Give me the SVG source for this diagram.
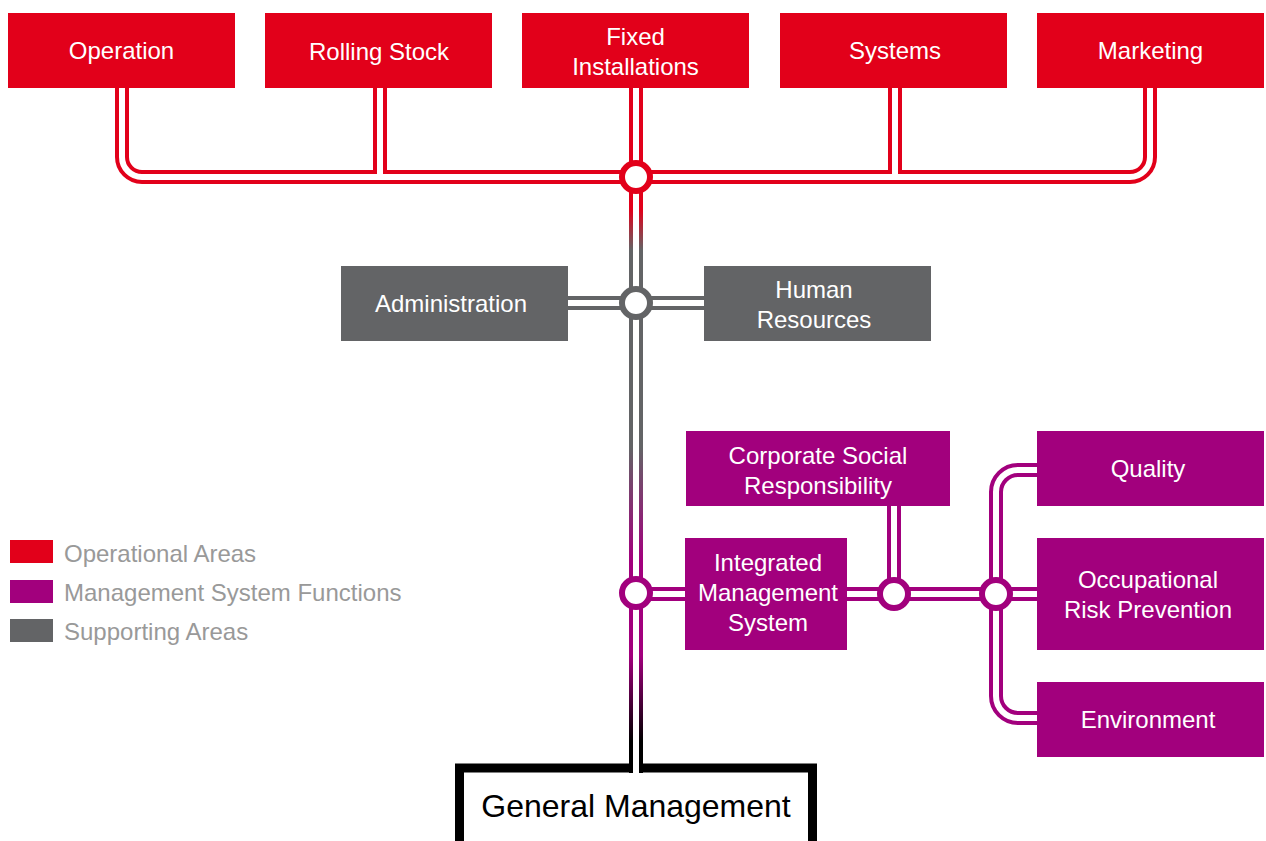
<svg xmlns="http://www.w3.org/2000/svg" xmlns:xlink="http://www.w3.org/1999/xlink" width="1266" height="841" viewBox="0 0 1266 841">
<style>
text{font-family:"Liberation Sans",Arial,sans-serif;font-size:24px;text-anchor:middle}
.w{fill:#fff}
.red{fill:#E2001A}
.pur{fill:#A2007D}
.gry{fill:#636466}
.sR{stroke:#E2001A;stroke-width:14;fill:none}
.sP{stroke:#A2007D;stroke-width:14;fill:none}
.sG{stroke:#636466;stroke-width:14;fill:none}
.gap{stroke:#fff;stroke-width:6;fill:none}
.jR{fill:#fff;stroke:#E2001A;stroke-width:6}
.jP{fill:#fff;stroke:#A2007D;stroke-width:6}
.jG{fill:#fff;stroke:#636466;stroke-width:6}
.leg{fill:#999;text-anchor:start}
</style>
<defs>
<linearGradient id="mainGrad" gradientUnits="userSpaceOnUse" x1="0" y1="88" x2="0" y2="772">
<stop offset="0" stop-color="#E2001A"/>
<stop offset="0.178" stop-color="#E2001A"/>
<stop offset="0.237" stop-color="#636466"/>
<stop offset="0.525" stop-color="#636466"/>
<stop offset="0.69" stop-color="#A2007D"/>
<stop offset="0.83" stop-color="#A2007D"/>
<stop offset="0.955" stop-color="#000"/>
<stop offset="1" stop-color="#000"/>
</linearGradient>
<path id="busTop" d="M122,88 V157 A20,20 0 0 0 142,177 H1130 A20,20 0 0 0 1150,157 V88"/>
<path id="rs" d="M380,88 V177"/>
<path id="sys" d="M895,88 V177"/>
<path id="main" d="M636,88 V773"/>
<path id="adm" d="M568,303 H704"/>
<path id="ims" d="M636,594 H685"/>
<path id="imsR" d="M847,594 H1037"/>
<path id="csr" d="M894,506 V594"/>
<path id="brk" d="M1037,470 H1018 A22,22 0 0 0 996,492 V696 A22,22 0 0 0 1018,718 H1037"/>
</defs>

<g id="general-management">
<rect x="459.5" y="768" width="353" height="90" fill="none" stroke="#000" stroke-width="9"/>
<text x="636" y="817" style="font-size:32px" fill="#000">General Management</text>
</g>

<g id="connectors">
<use xlink:href="#busTop" class="sR"/>
<use xlink:href="#rs" class="sR"/>
<use xlink:href="#sys" class="sR"/>
<use xlink:href="#adm" class="sG"/>
<use xlink:href="#ims" class="sP"/>
<use xlink:href="#imsR" class="sP"/>
<use xlink:href="#csr" class="sP"/>
<use xlink:href="#brk" class="sP"/>
<use xlink:href="#main" stroke="url(#mainGrad)" stroke-width="14" fill="none"/>
<use xlink:href="#busTop" class="gap"/>
<use xlink:href="#rs" class="gap"/>
<use xlink:href="#sys" class="gap"/>
<use xlink:href="#adm" class="gap"/>
<use xlink:href="#ims" class="gap"/>
<use xlink:href="#imsR" class="gap"/>
<use xlink:href="#csr" class="gap"/>
<use xlink:href="#brk" class="gap"/>
<use xlink:href="#main" class="gap"/>
<circle cx="636" cy="177" r="14" class="jR"/>
<circle cx="636" cy="303" r="14" class="jG"/>
<circle cx="636" cy="593" r="14" class="jP"/>
<circle cx="894" cy="594" r="14" class="jP"/>
<circle cx="996" cy="594" r="14" class="jP"/>
</g>

<g id="operation"><rect x="8" y="13" width="227" height="75" class="red"/><text x="121.5" y="59" class="w">Operation</text></g>
<g id="rolling-stock"><rect x="265" y="13" width="227" height="75" class="red"/><text x="379" y="60" class="w">Rolling Stock</text></g>
<g id="fixed-installations"><rect x="522" y="13" width="227" height="75" class="red"/><text x="635.5" y="44.5" class="w">Fixed</text><text x="635.5" y="74.5" class="w">Installations</text></g>
<g id="systems"><rect x="780" y="13" width="227" height="75" class="red"/><text x="895" y="59" class="w">Systems</text></g>
<g id="marketing"><rect x="1037" y="13" width="227" height="75" class="red"/><text x="1150.5" y="59" class="w">Marketing</text></g>

<g id="administration"><rect x="341" y="266" width="227" height="75" class="gry"/><text x="451" y="312" class="w">Administration</text></g>
<g id="human-resources"><rect x="704" y="266" width="227" height="75" class="gry"/><text x="814" y="298" class="w">Human</text><text x="814" y="328" class="w">Resources</text></g>

<g id="csr-node"><rect x="686" y="431" width="264" height="75" class="pur"/><text x="818" y="464" class="w">Corporate Social</text><text x="818" y="494" class="w">Responsibility</text></g>
<g id="ims-node"><rect x="685" y="538" width="162" height="112" class="pur"/><text x="768" y="571" class="w">Integrated</text><text x="768" y="601" class="w">Management</text><text x="768" y="631" class="w">System</text></g>
<g id="quality"><rect x="1037" y="431" width="227" height="75" class="pur"/><text x="1148" y="477" class="w">Quality</text></g>
<g id="occupational"><rect x="1037" y="538" width="227" height="112" class="pur"/><text x="1148" y="588" class="w">Occupational</text><text x="1148" y="618" class="w">Risk Prevention</text></g>
<g id="environment"><rect x="1037" y="682" width="227" height="75" class="pur"/><text x="1148" y="728" class="w">Environment</text></g>

<g id="legend">
<rect x="10" y="540" width="43" height="23" class="red"/>
<rect x="10" y="580" width="43" height="23" class="pur"/>
<rect x="10" y="619" width="43" height="23" class="gry"/>
<text x="64" y="562" class="leg">Operational Areas</text>
<text x="64" y="601" class="leg">Management System Functions</text>
<text x="64" y="640" class="leg">Supporting Areas</text>
</g>
</svg>
